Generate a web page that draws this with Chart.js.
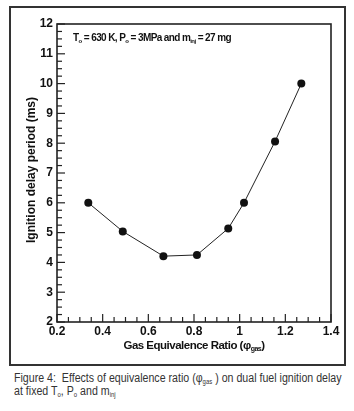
<!DOCTYPE html>
<html>
<head>
<meta charset="utf-8">
<script src="https://cdn.jsdelivr.net/npm/chart.js@4.4.0/dist/chart.umd.min.js"></script>
<style>
  body { margin: 0; background: #fff; width: 354px; height: 411px; position: relative; overflow: hidden; }
  #marco { position: absolute; left: 9px; top: 6px; width: 337px; height: 360px; border: 2px solid #333; box-sizing: border-box; }
  #contenedor { position: absolute; left: 0; top: 0; width: 354px; height: 366px; }
  #leyenda {
    position: absolute; left: 14px; top: 372px;
    font-family: Arial, "Liberation Sans", sans-serif;
    font-size: 12.5px; line-height: 13px; color: #333; white-space: nowrap;
    transform: scaleX(0.85); transform-origin: left top;
  }
  #leyenda sub { font-size: 7px; vertical-align: -2px; line-height: 0; }
</style>
</head>
<body>
<div id="marco"></div>
<div id="contenedor"><canvas id="grafico"></canvas></div>
<div id="leyenda">Figure 4:&nbsp; Effects of equivalence ratio (&phi;<sub>gas</sub> ) on dual fuel ignition delay<br>at fixed T<sub>o</sub>, P<sub>o</sub> and m<sub>inj</sub></div>
<script>
// Datos
const relacionEquivalencia = [0.337, 0.488, 0.666, 0.813, 0.95, 1.019, 1.155, 1.27];
const retardoIgnicion = [6.0, 5.04, 4.21, 4.25, 5.14, 6.0, 8.06, 10.0];
const limitesX = [0.2, 1.4];
const limitesY = [2, 12];
const tituloY = 'Ignition delay period (ms)';

const FUENTE = 'Arial, "Liberation Sans", sans-serif';

function esMultiplo(v, paso) {
    return Math.abs(v / paso - Math.round(v / paso)) < 1e-6;
}

// Dibuja texto con subíndices, trozo a trozo
function textoConSub(ctx, partes, x, y, tam, espaciado) {
    ctx.letterSpacing = espaciado + 'px';
    let posX = x;
    partes.forEach(p => {
        if (p.sub) {
            ctx.font = 'bold ' + Math.round(tam * 0.6) + 'px ' + FUENTE;
            ctx.fillText(p.t, posX, y + tam * 0.3);
        } else {
            ctx.font = 'bold ' + tam + 'px ' + FUENTE;
            ctx.fillText(p.t, posX, y);
        }
        posX += ctx.measureText(p.t).width;
    });
    return posX - x;
}

// Marcas hacia dentro, marco del área y textos extra
const marcasInternas = {
    id: 'marcasInternas',
    afterDatasetsDraw(chart) {
        const { ctx, chartArea: a, scales: { x, y } } = chart;
        ctx.save();
        ctx.strokeStyle = '#222';
        ctx.lineWidth = 1.2;
        x.ticks.forEach(t => {
            const px = x.getPixelForValue(t.value);
            const largo = esMultiplo(t.value, 0.2) ? 8 : 5;
            ctx.beginPath();
            ctx.moveTo(px, a.bottom);
            ctx.lineTo(px, a.bottom - largo);
            ctx.stroke();
        });
        y.ticks.forEach(t => {
            const py = y.getPixelForValue(t.value);
            const largo = esMultiplo(t.value, 1) ? 8 : 5;
            ctx.beginPath();
            ctx.moveTo(a.left, py);
            ctx.lineTo(a.left + largo, py);
            ctx.stroke();
        });
        ctx.lineWidth = 1.6;
        ctx.strokeRect(a.left, a.top, a.right - a.left, a.bottom - a.top);

        ctx.fillStyle = '#111';
        ctx.textBaseline = 'middle';
        ctx.textAlign = 'left';
        // Anotación de condiciones
        textoConSub(ctx, [
            { t: 'T' }, { t: 'o', sub: true }, { t: ' = 630 K, P' }, { t: 'o', sub: true },
            { t: ' = 3MPa and m' }, { t: 'inj', sub: true }, { t: ' = 27 mg' }
        ], 73, 38, 10, -0.6);

        // Título del eje x (con subíndice)
        const partesX = [{ t: 'Gas Equivalence Ratio (\u03c6' }, { t: 'gas', sub: true }, { t: ')' }];
        ctx.globalAlpha = 0;
        const ancho = textoConSub(ctx, partesX, 0, 0, 11.5, -0.5);
        ctx.globalAlpha = 1;
        textoConSub(ctx, partesX, (a.left + a.right) / 2 - ancho / 2, 346, 11.5, -0.5);

        // Título del eje y, girado
        ctx.letterSpacing = '0px';
        ctx.font = 'bold 12px ' + FUENTE;
        ctx.textAlign = 'center';
        ctx.translate(32, (a.top + a.bottom) / 2 - 3);
        ctx.rotate(-Math.PI / 2);
        ctx.fillText(tituloY, 0, 0);
        ctx.restore();
    }
};

const ctx = document.getElementById('grafico').getContext('2d');
new Chart(ctx, {
    type: 'scatter',
    data: {
        datasets: [{
            data: relacionEquivalencia.map((v, i) => ({ x: v, y: retardoIgnicion[i] })),
            showLine: true,
            borderColor: '#222',
            borderWidth: 1,
            backgroundColor: '#111',
            pointRadius: 4,
            pointBorderWidth: 0
        }]
    },
    options: {
        responsive: true,
        maintainAspectRatio: false,
        animation: false,
        layout: { padding: { left: 11, right: 23, top: 24, bottom: 8 } },
        plugins: { legend: { display: false }, tooltip: { enabled: false } },
        scales: {
            x: {
                type: 'linear',
                min: limitesX[0],
                max: limitesX[1],
                afterFit: s => { s.height = 36; },
                grid: { drawOnChartArea: false, drawTicks: false },
                border: { display: false },
                ticks: {
                    stepSize: 0.05,
                    autoSkip: false,
                    maxRotation: 0,
                    padding: 2,
                    color: '#111',
                    font: { family: FUENTE, size: 12, weight: 'bold' },
                    callback: v => esMultiplo(v, 0.2) ? String(Math.round(v * 10) / 10) : ''
                }
            },
            y: {
                min: limitesY[0],
                max: limitesY[1],
                afterFit: s => { s.width = 46; },
                grid: { drawOnChartArea: false, drawTicks: false },
                border: { display: false },
                ticks: {
                    stepSize: 0.25,
                    autoSkip: false,
                    padding: 4,
                    color: '#111',
                    font: { family: FUENTE, size: 12, weight: 'bold' },
                    callback: v => esMultiplo(v, 1) ? String(Math.round(v)) : ''
                }
            }
        }
    },
    plugins: [marcasInternas]
});
</script>
</body>
</html>
